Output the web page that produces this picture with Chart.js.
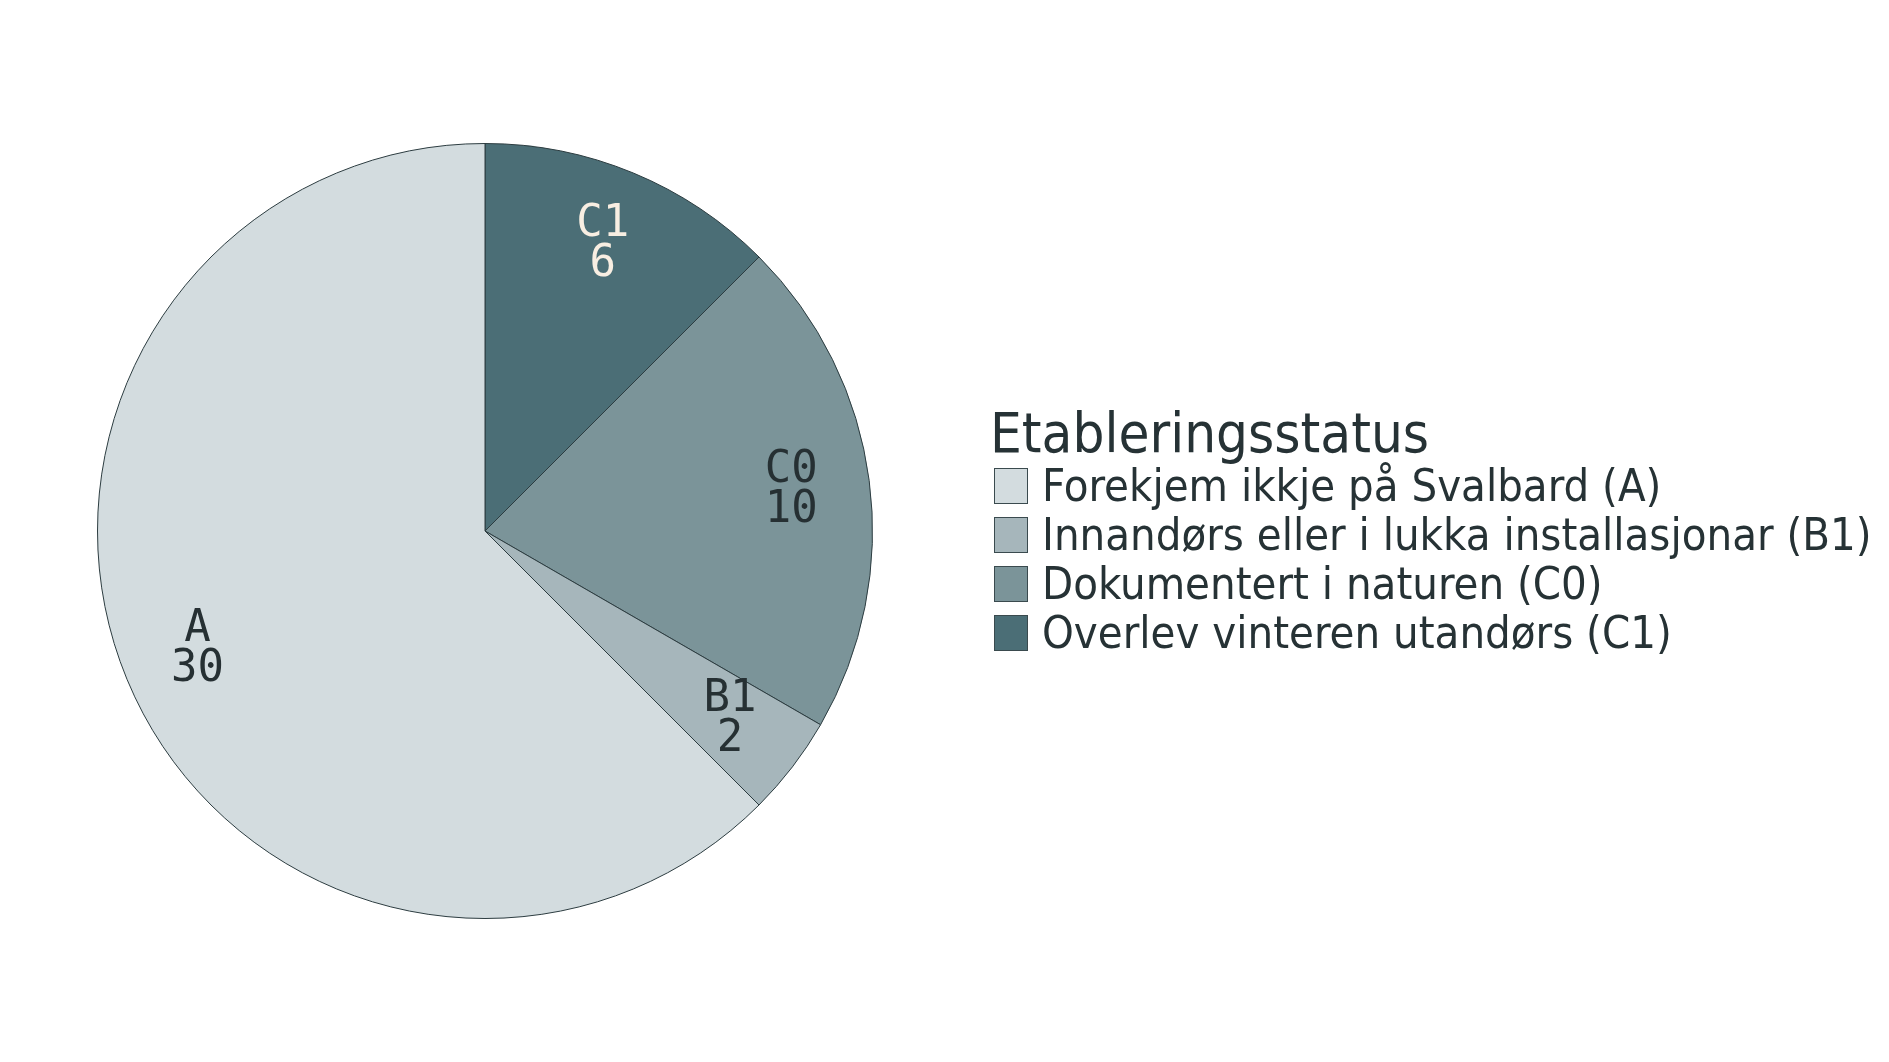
<!DOCTYPE html>
<html>
<head>
<meta charset="utf-8">
<script src="https://cdn.jsdelivr.net/npm/chart.js@4/dist/chart.umd.min.js"></script>
<style>
  html, body { margin: 0; padding: 0; background: #ffffff; }
  #wrap { position: relative; width: 1889px; height: 1062px; overflow: hidden; }
  #c { position: absolute; left: 0; top: 0; }
  #legend { position: absolute; left: 990px; top: 396px; color: #263235;
    font-family: "Liberation Sans Narrow", "DejaVu Sans Condensed", sans-serif; }
  #legend .title { font-size: 56px; line-height: 66px; height: 66px; padding-top: 4px; margin-bottom: 2px; white-space: nowrap; }
  #legend .item { display: flex; align-items: center; height: 36px; margin-bottom: 13px; white-space: nowrap; }
  #legend .box { width: 32px; height: 34px; border: 1px solid #3a4a4e; margin-left: 4px; margin-right: 14px; flex: none; }
  #legend .txt { font-size: 45px; line-height: 36px; }
</style>
</head>
<body>
<div id="wrap">
  <canvas id="c" width="1889" height="1062"></canvas>
  <div id="legend"></div>
</div>
<script>
// Data (legend order)
const legendTitle = "Etableringsstatus";
const codes = ["A", "B1", "C0", "C1"];
const categories = [
  "Forekjem ikkje på Svalbard (A)",
  "Innandørs eller i lukka installasjonar (B1)",
  "Dokumentert i naturen (C0)",
  "Overlev vinteren utandørs (C1)"
];
const values = [30, 2, 10, 6];
const colors = ["#d3dcdf", "#a6b6bb", "#7b9499", "#4b6e76"];
const labelColors = ["#263033", "#263033", "#263033", "#f8eee2"];

// Pie is drawn clockwise from top starting with C1, so reverse order for dataset
const order = [3, 2, 1, 0];
const pieCodes = order.map(i => codes[i]);
const pieLabels = order.map(i => categories[i]);
const pieValues = order.map(i => values[i]);
const pieColors = order.map(i => colors[i]);
const pieLabelColors = order.map(i => labelColors[i]);

const sliceLabels = {
  id: 'sliceLabels',
  afterDatasetsDraw(chart) {
    const ctx = chart.ctx;
    const meta = chart.getDatasetMeta(0);
    ctx.save();
    ctx.font = '44px "DejaVu Sans Mono", "Liberation Mono", monospace';
    ctx.textAlign = 'center';
    ctx.textBaseline = 'middle';
    meta.data.forEach((arc, i) => {
      const p = arc.getProps(['x', 'y', 'startAngle', 'endAngle', 'outerRadius'], true);
      const mid = (p.startAngle + p.endAngle) / 2;
      const r = p.outerRadius * 0.8;
      const x = p.x + Math.cos(mid) * r;
      const y = p.y + Math.sin(mid) * r;
      ctx.fillStyle = pieLabelColors[i];
      ctx.fillText(pieCodes[i], x - 1, y - 20);
      ctx.fillText(String(pieValues[i]), x - 1, y + 20);
    });
    ctx.restore();
  }
};

new Chart(document.getElementById('c'), {
  type: 'pie',
  data: {
    labels: pieLabels,
    datasets: [{
      data: pieValues,
      backgroundColor: pieColors,
      borderColor: '#2c3c40',
      borderWidth: 1
    }]
  },
  options: {
    responsive: false,
    animation: false,
    layout: { padding: { left: 97, top: 143, right: 1016, bottom: 143 } },
    plugins: {
      legend: { display: false },
      tooltip: { enabled: false }
    }
  },
  plugins: [sliceLabels]
});

// HTML legend built from the arrays (legend order)
const lg = document.getElementById('legend');
const t = document.createElement('div');
t.className = 'title';
t.textContent = legendTitle;
lg.appendChild(t);
categories.forEach((name, i) => {
  const it = document.createElement('div');
  it.className = 'item';
  const b = document.createElement('div');
  b.className = 'box';
  b.style.background = colors[i];
  const s = document.createElement('span');
  s.className = 'txt';
  s.textContent = name;
  it.appendChild(b);
  it.appendChild(s);
  lg.appendChild(it);
});
</script>
</body>
</html>
